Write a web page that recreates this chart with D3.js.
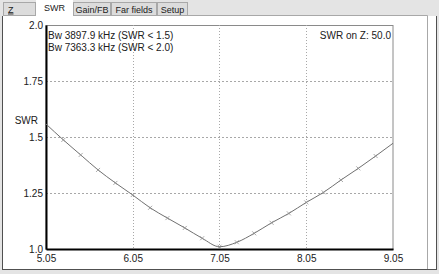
<!DOCTYPE html>
<html>
<head>
<meta charset="utf-8">
<script src="https://cdn.jsdelivr.net/npm/d3@7"></script>
<style>
  body { margin: 0; background: #ffffff; }
  svg { display: block; font-family: "Liberation Sans", Arial, sans-serif; }
</style>
</head>
<body>
<div id="chart"></div>
<script>
// frequency (MHz) and SWR
const freqs = [5.05, 5.25, 5.45, 5.65, 5.85, 6.05, 6.25, 6.45, 6.65, 6.85, 7.05,
               7.25, 7.45, 7.65, 7.85, 8.05, 8.25, 8.45, 8.65, 8.85, 9.05];
const swr = [1.558, 1.487, 1.420, 1.353, 1.295, 1.241, 1.184, 1.138, 1.094, 1.048, 1.010,
             1.030, 1.070, 1.117, 1.159, 1.208, 1.253, 1.308, 1.360, 1.415, 1.472];
const xTicks = [5.05, 6.05, 7.05, 8.05, 9.05];
const yTicks = [1.0, 1.25, 1.5, 1.75, 2.0];
const yTickLabels = ["1.0", "1.25", "1.5", "1.75", "2.0"];
const tabs = ["Z", "SWR", "Gain/FB", "Far fields", "Setup"];
const infoLines = ["Bw 3897.9 kHz (SWR < 1.5)", "Bw 7363.3 kHz (SWR < 2.0)"];
const refText = "SWR on Z: 50.0";

const W = 439, H = 274;
const svg = d3.select("#chart").append("svg").attr("width", W).attr("height", H);

// window frame
svg.append("rect").attr("width", W).attr("height", H).attr("fill", "#e4e4e4");
svg.append("rect").attr("x", 3).attr("y", 16).attr("width", 433).attr("height", 253)
    .attr("fill", "#ffffff");
svg.append("path").attr("d", "M3,15.5H427.5V269")
    .attr("fill", "none").attr("stroke", "#a8a8a8");
svg.append("line").attr("x1", 2.5).attr("x2", 2.5).attr("y1", 16).attr("y2", 270)
    .attr("stroke", "#505050");
svg.append("line").attr("x1", 2).attr("x2", 437).attr("y1", 269.5).attr("y2", 269.5)
    .attr("stroke", "#505050");
svg.append("line").attr("x1", 436.5).attr("x2", 436.5).attr("y1", 16).attr("y2", 270)
    .attr("stroke", "#505050");

// tabs
const tabX = [3, 36, 73, 111, 157, 188];
const tabG = svg.append("g");
tabs.forEach((t, i) => {
  const sel = t === "SWR";
  tabG.append("rect")
    .attr("x", tabX[i] + 0.5).attr("y", sel ? 0.5 : 2.5)
    .attr("width", tabX[i + 1] - tabX[i] - 1).attr("height", sel ? 16 : 13)
    .attr("fill", sel ? "#ffffff" : "#dcdcdc")
    .attr("stroke", sel ? "#ffffff" : "#a8a8a8");
  tabG.append("text")
    .attr("x", t === "Z" ? tabX[i] + 5 : (tabX[i] + tabX[i + 1]) / 2)
    .attr("y", sel ? 11 : 12.5)
    .attr("text-anchor", t === "Z" ? "start" : "middle")
    .attr("font-size", 9).attr("fill", "#202020")
    .attr("text-decoration", t === "Z" ? "underline" : null)
    .text(t);
});

// plot area
const x = d3.scaleLinear().domain([5.05, 9.05]).range([46, 393]);
const y = d3.scaleLinear().domain([1.0, 2.0]).range([249, 25]);

const plot = svg.append("g");
plot.append("rect").attr("x", 46).attr("y", 25.5).attr("width", 347).attr("height", 224)
  .attr("fill", "none").attr("stroke", "#8a8a8a");

// grid
plot.selectAll(".vg").data(xTicks.slice(1, -1)).enter().append("line")
  .attr("x1", d => Math.round(x(d)) + 0.5).attr("x2", d => Math.round(x(d)) + 0.5)
  .attr("y1", 25).attr("y2", 249)
  .attr("stroke", "#a8a8a8").attr("stroke-dasharray", "1,2");
plot.selectAll(".hg").data(yTicks.slice(1, -1)).enter().append("line")
  .attr("x1", 46).attr("x2", 393)
  .attr("y1", d => Math.round(y(d)) + 0.5).attr("y2", d => Math.round(y(d)) + 0.5)
  .attr("stroke", "#a8a8a8").attr("stroke-dasharray", "2,2");

// axes
const xAxis = plot.append("g").attr("transform", "translate(0,249)")
  .call(d3.axisBottom(x).tickValues(xTicks).tickSize(0).tickPadding(6).tickFormat(d3.format(".2f")));
const yAxis = plot.append("g").attr("transform", "translate(46,0)")
  .call(d3.axisLeft(y).tickValues(yTicks).tickSize(0).tickPadding(3)
    .tickFormat((d, i) => yTickLabels[i]));
[xAxis, yAxis].forEach(a => {
  a.select(".domain").attr("stroke", "#000").attr("stroke-width", 2);
  a.selectAll("text").attr("font-size", 10).attr("fill", "#202020")
    .attr("font-family", "Liberation Sans, Arial, sans-serif");
});

plot.append("text").attr("x", 38).attr("y", 124).attr("text-anchor", "end")
  .attr("font-size", 10).attr("fill", "#202020").text("SWR");

// curve
const pts = freqs.map((f, i) => [f, swr[i]]);
plot.append("path").datum(pts)
  .attr("fill", "none").attr("stroke", "#707070").attr("stroke-width", 1)
  .attr("d", d3.line().x(d => x(d[0])).y(d => y(d[1])).curve(d3.curveMonotoneX));

plot.selectAll(".mk").data(pts.slice(1, -1)).enter().append("path")
  .attr("d", d => {
    const cx = x(d[0]), cy = y(d[1]);
    return `M${cx - 2},${cy - 2}L${cx + 2},${cy + 2}M${cx - 2},${cy + 2}L${cx + 2},${cy - 2}`;
  })
  .attr("stroke", "#909090").attr("stroke-width", 0.8);

// annotations
plot.selectAll(".info").data(infoLines).enter().append("text")
  .attr("x", 48).attr("y", (d, i) => 39 + i * 12)
  .attr("font-size", 10).attr("fill", "#202020").text(d => d);
plot.append("text").attr("x", 391).attr("y", 39).attr("text-anchor", "end")
  .attr("font-size", 10).attr("fill", "#202020").text(refText);
</script>
</body>
</html>
